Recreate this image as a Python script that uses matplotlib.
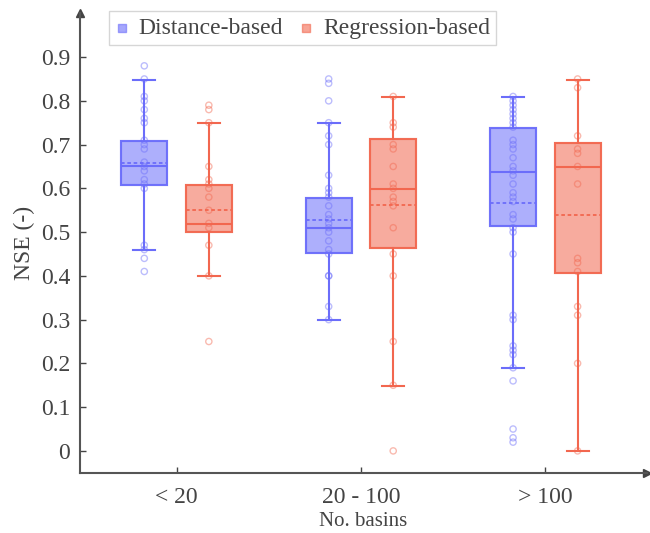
import numpy as np
import matplotlib
matplotlib.use("Agg")
import matplotlib.pyplot as plt

plt.rcParams['font.family'] = ['Liberation Serif', 'DejaVu Serif']

groups = ["< 20", "20 - 100", "> 100"]
methods = ["Distance-based", "Regression-based"]

# box statistics per group: [distance, regression]
q1 = [[0.608, 0.500], [0.453, 0.464], [0.513, 0.406]]
med = [[0.650, 0.519], [0.509, 0.599], [0.638, 0.648]]
q3 = [[0.709, 0.608], [0.579, 0.713], [0.738, 0.704]]
mean = [[0.657, 0.551], [0.528, 0.561], [0.566, 0.538]]
whislo = [[0.459, 0.399], [0.299, 0.149], [0.189, 0.000]]
whishi = [[0.848, 0.750], [0.750, 0.809], [0.809, 0.848]]

# individual basin scores
dist_pts = [
    [0.88, 0.85, 0.81, 0.80, 0.78, 0.76, 0.75, 0.71, 0.70, 0.69, 0.66, 0.65,
     0.64, 0.62, 0.61, 0.60, 0.47, 0.46, 0.44, 0.41],
    [0.85, 0.84, 0.80, 0.75, 0.72, 0.70, 0.63, 0.60, 0.59, 0.58, 0.56, 0.54,
     0.53, 0.52, 0.51, 0.50, 0.48, 0.46, 0.45, 0.40, 0.40, 0.33, 0.30],
    [0.81, 0.80, 0.79, 0.78, 0.77, 0.76, 0.75, 0.74, 0.71, 0.70, 0.69, 0.67,
     0.65, 0.64, 0.63, 0.61, 0.59, 0.58, 0.57, 0.54, 0.53, 0.51, 0.50, 0.45,
     0.31, 0.30, 0.24, 0.23, 0.22, 0.19, 0.16, 0.05, 0.03, 0.02],
]
reg_pts = [
    [0.79, 0.78, 0.75, 0.65, 0.62, 0.61, 0.60, 0.58, 0.55, 0.52, 0.51, 0.47,
     0.40, 0.25],
    [0.81, 0.75, 0.74, 0.70, 0.69, 0.65, 0.61, 0.60, 0.58, 0.57, 0.56, 0.51,
     0.45, 0.40, 0.25, 0.15, 0.00],
    [0.85, 0.83, 0.72, 0.69, 0.68, 0.65, 0.61, 0.44, 0.43, 0.41, 0.33, 0.31,
     0.20, 0.00],
]

colors = ['#6b6dfa', '#f2674f']
offsets = [-0.175, 0.175]

fig, ax = plt.subplots(figsize=(6.5, 5.33), dpi=100)
fig.subplots_adjust(left=0.123, right=0.995, bottom=0.113, top=0.975)

pos = np.arange(1, len(groups) + 1)
for k, pts in enumerate([dist_pts, reg_pts]):
    stats = []
    for g in range(len(groups)):
        stats.append(dict(q1=q1[g][k], med=med[g][k], q3=q3[g][k],
                          mean=mean[g][k], whislo=whislo[g][k],
                          whishi=whishi[g][k], fliers=[]))
    c = colors[k]
    ax.bxp(stats, positions=pos + offsets[k], widths=0.25, capwidths=0.12,
           patch_artist=True, showmeans=True, meanline=True, showfliers=False,
           boxprops=dict(facecolor=c, edgecolor=c, alpha=0.55, linewidth=1.5),
           medianprops=dict(color=c, linewidth=1.5),
           meanprops=dict(color=c, linestyle=(0, (2, 1.5)), linewidth=1.3),
           whiskerprops=dict(color=c, linewidth=1.5),
           capprops=dict(color=c, linewidth=1.5))
    # redraw box outline fully opaque
    for g in range(len(groups)):
        x0 = pos[g] + offsets[k] - 0.125
        ax.add_patch(plt.Rectangle((x0, q1[g][k]), 0.25, q3[g][k] - q1[g][k],
                                   fill=False, edgecolor=c, linewidth=1.5,
                                   alpha=0.9, zorder=3))
        y = np.array(pts[g])
        ax.scatter(np.full(len(y), pos[g] + offsets[k]), y, s=20,
                   facecolors='none', edgecolors=c, linewidths=1.0,
                   alpha=0.45, zorder=4)
    ax.scatter([], [], marker='s', s=30, color=c, alpha=0.6, label=methods[k])

ax.set_xlim(0.476, 3.55)
ax.set_ylim(-0.05, 1.0)
ax.set_xticks(pos)
ax.set_xticklabels(groups)
ax.set_yticks(np.arange(0, 0.91, 0.1))
ax.set_yticklabels(['0'] + ['%.1f' % v for v in np.arange(0.1, 0.91, 0.1)])
ax.tick_params(direction='in', length=4, labelsize=17, colors='#444444',
               width=1)
ax.tick_params(axis='y', pad=7)
ax.tick_params(axis='x', pad=10)
for s in ['top', 'right']:
    ax.spines[s].set_visible(False)
for s in ['left', 'bottom']:
    ax.spines[s].set_color('#555555')
    ax.spines[s].set_linewidth(1.5)
ax.plot(0, 1, '^', color='#444444', markersize=6, transform=ax.transAxes,
        clip_on=False)
ax.plot(1, 0, '>', color='#444444', markersize=6, transform=ax.transAxes,
        clip_on=False)

ax.set_ylabel('NSE (-)', fontsize=17, color='#444444', labelpad=4)
ax.set_xlabel('No. basins', fontsize=15, color='#444444', labelpad=3)

leg = ax.legend(loc='upper left', bbox_to_anchor=(0.03, 1.03), ncol=2,
                fontsize=17, frameon=True, fancybox=False, handlelength=0.6,
                handletextpad=0.4, columnspacing=0.7, borderpad=0.25)
leg.get_frame().set_edgecolor('#cccccc')
for t in leg.get_texts():
    t.set_color('#444444')

fig.savefig('out.png', dpi=100)
